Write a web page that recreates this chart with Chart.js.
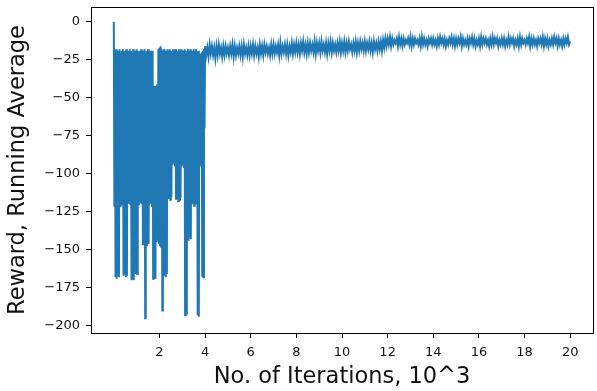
<!DOCTYPE html>
<html>
<head>
<meta charset="utf-8">
<script src="https://cdn.jsdelivr.net/npm/chart.js@4.4.1/dist/chart.umd.min.js"></script>
<style>
  html, body { margin: 0; padding: 0; background: #fff; }
</style>
</head>
<body>
<canvas id="rewardChart" width="597" height="391"></canvas>
<script>
// Eje x en miles de iteraciones
const xTickValues = [2, 4, 6, 8, 10, 12, 14, 16, 18, 20];
const xTickLabels = ['2', '4', '6', '8', '10', '12', '14', '16', '18', '20'];
const yTickValues = [0, -25, -50, -75, -100, -125, -150, -175, -200];
const yTickLabels = ['0', '\u221225', '\u221250', '\u221275', '\u2212100', '\u2212125', '\u2212150', '\u2212175', '\u2212200'];

// Tramo inicial muy ruidoso (0 - 4): valor alto y bajo de cada columna de 0.05
const earlyStart = 0;
const earlyStep = 0.05;
const earlyHigh = [
  0, -19, -18, -20, -19, -18, -20, -19, -18, -20,
  -19, -18, -20, -19, -18, -19, -20, -18, -19, -20,
  -18, -19, -20, -19, -18, -20, -19, -18, -20, -19,
  -18, -20, -19, -20, -19, -42, -42, -42, -41, -18,
  -17, -16, -18, -19, -18, -19, -20, -18, -19, -18,
  -19, -20, -18, -19, -18, -19, -20, -18, -19, -18,
  -20, -19, -18, -19, -20, -18, -19, -18, -20, -19,
  -18, -19, -18, -20, -19, -21, -22, -20, -19, -18
];
const earlyLow = [
  -121, -168, -169, -167, -168, -121, -120, -95, -167, -166,
  -168, -167, -119, -118, -120, -170, -169, -170, -166, -165,
  -166, -120, -118, -119, -120, -147, -146, -195, -147, -145,
  -146, -120, -119, -121, -169, -168, -169, -145, -144, -146,
  -147, -148, -190, -147, -167, -168, -166, -116, -115, -117,
  -115, -94, -93, -95, -117, -116, -118, -117, -116, -95,
  -94, -96, -193, -192, -143, -144, -142, -143, -120, -119,
  -121, -72, -120, -193, -194, -95, -94, -167, -168, -70
];

// Tramo estable (4 - 20): valor alto y bajo de cada columna de 0.1
const lateStart = 4.0;
const lateStep = 0.1;
const lateHigh = [
  -16, -17, -15, -16, -17, -16, -15, -17, -16, -16,
  -17, -16, -15, -16, -17, -16, -16, -15, -17, -16,
  -16, -15, -16, -17, -15, -16, -15, -16, -17, -15,
  -15, -16, -15, -14, -16, -15, -15, -16, -14, -15,
  -14, -15, -14, -13, -15, -14, -14, -15, -13, -14,
  -14, -13, -15, -14, -14, -13, -14, -15, -14, -13,
  -14, -13, -14, -13, -15, -14, -13, -14, -13, -14,
  -13, -14, -13, -14, -13, -14, -13, -13, -12, -11,
  -11, -10, -11, -12, -11, -10, -11, -11, -12, -11,
  -10, -11, -11, -12, -11, -10, -11, -12, -11, -11,
  -11, -12, -11, -10, -11, -11, -12, -11, -10, -11,
  -11, -11, -10, -11, -12, -11, -11, -10, -11, -12,
  -11, -10, -11, -11, -12, -11, -10, -11, -11, -12,
  -11, -11, -12, -10, -11, -11, -12, -11, -10, -11,
  -12, -11, -10, -11, -11, -12, -11, -11, -10, -11,
  -11, -12, -11, -10, -11, -11, -12, -11, -11, -10
];
const lateLow = [
  -22, -23, -21, -22, -24, -22, -21, -23, -22, -21,
  -22, -21, -23, -22, -21, -22, -23, -21, -22, -22,
  -21, -22, -21, -23, -21, -22, -20, -21, -22, -21,
  -21, -20, -22, -21, -20, -21, -22, -20, -21, -20,
  -20, -21, -19, -20, -21, -20, -19, -20, -21, -19,
  -20, -19, -20, -21, -19, -20, -19, -20, -19, -20,
  -19, -20, -19, -18, -20, -19, -20, -19, -18, -19,
  -19, -18, -19, -20, -18, -19, -18, -19, -17, -16,
  -15, -16, -15, -14, -16, -15, -16, -15, -14, -15,
  -16, -15, -14, -15, -16, -15, -15, -16, -14, -15,
  -15, -16, -15, -14, -15, -16, -15, -14, -15, -16,
  -15, -14, -16, -15, -15, -16, -14, -15, -16, -15,
  -16, -15, -14, -15, -16, -15, -15, -14, -16, -15,
  -15, -16, -15, -15, -14, -16, -15, -16, -15, -14,
  -15, -14, -16, -15, -15, -16, -14, -15, -16, -15,
  -16, -15, -15, -14, -16, -15, -16, -15, -14, -15
];
const finalIteration = 20;
const finalReward = -13;

// Construir la serie: en cada columna se pasa del valor alto al bajo
const points = [];
function addColumns(start, step, highs, lows) {
  highs.forEach((hi, i) => {
    points.push({ x: start + i * step, y: hi });
    points.push({ x: start + i * step + step / 2, y: lows[i] });
  });
}
addColumns(earlyStart, earlyStep, earlyHigh, earlyLow);
addColumns(lateStart, lateStep, lateHigh, lateLow);
points.push({ x: finalIteration, y: finalReward });

const FONT = 'DejaVu Sans';

// Marco completo alrededor del área del gráfico (estilo matplotlib)
const frameBox = {
  id: 'frameBox',
  afterDraw(chart) {
    const { ctx, chartArea: a } = chart;
    ctx.save();
    ctx.strokeStyle = '#000';
    ctx.lineWidth = 1;
    ctx.strokeRect(Math.round(a.left) + 0.5, Math.round(a.top) + 0.5,
      Math.round(a.right - a.left), Math.round(a.bottom - a.top));
    ctx.restore();
  }
};

const chart = new Chart(document.getElementById('rewardChart'), {
  type: 'line',
  data: {
    datasets: [{
      data: points,
      borderColor: '#1f77b4',
      borderWidth: 2,
      pointRadius: 0,
      tension: 0,
      fill: false
    }]
  },
  options: {
    responsive: false,
    animation: false,
    layout: { padding: { left: 0, right: 4, top: 7, bottom: 0 } },
    plugins: {
      legend: { display: false },
      tooltip: { enabled: false }
    },
    scales: {
      x: {
        type: 'linear',
        min: -1,
        max: 21,
        afterBuildTicks: (scale) => { scale.ticks = xTickValues.map(v => ({ value: v })); },
        afterFit: (scale) => {
          scale.height = 58;
          scale.paddingLeft = 0;
          scale.paddingRight = 0;
        },
        ticks: {
          color: '#111',
          font: { family: FONT, size: 13 },
          padding: 7,
          maxRotation: 0,
          autoSkip: false,
          callback: (value) => xTickLabels[xTickValues.indexOf(value)]
        },
        grid: { display: true, drawOnChartArea: false, drawTicks: true, tickLength: 5, color: '#000' },
        border: { display: false },
        title: {
          display: true,
          text: 'No. of Iterations, 10^3',
          color: '#111',
          font: { family: FONT, size: 22.5 },
          padding: { top: 0, bottom: 0 }
        }
      },
      y: {
        type: 'linear',
        min: -204.75,
        max: 9.75,
        afterBuildTicks: (scale) => { scale.ticks = yTickValues.map(v => ({ value: v })); },
        afterFit: (scale) => {
          scale.width = 91;
          scale.paddingTop = 0;
          scale.paddingBottom = 0;
        },
        ticks: {
          color: '#111',
          font: { family: FONT, size: 13 },
          padding: 6,
          autoSkip: false,
          callback: (value) => yTickLabels[yTickValues.indexOf(value)]
        },
        grid: { display: true, drawOnChartArea: false, drawTicks: true, tickLength: 5, color: '#000' },
        border: { display: false },
        title: {
          display: true,
          text: 'Reward, Running Average',
          color: '#111',
          font: { family: FONT, size: 22.5 },
          padding: { top: 5, bottom: 0 }
        }
      }
    }
  },
  plugins: [frameBox]
});
</script>
</body>
</html>
